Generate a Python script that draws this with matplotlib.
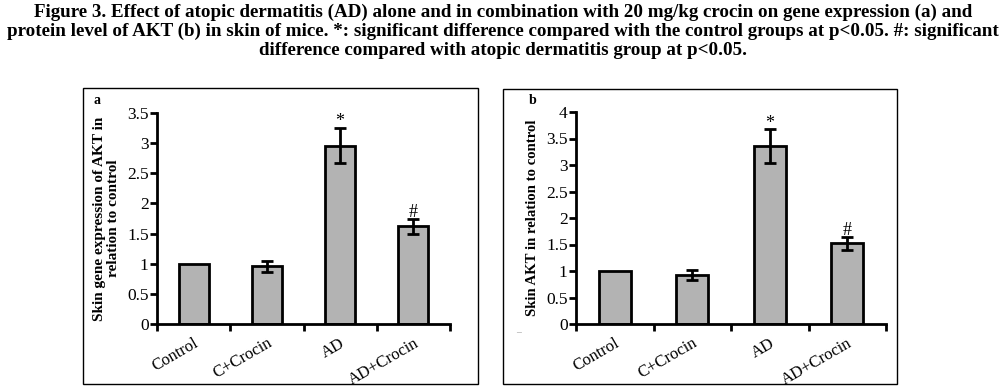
import numpy as np
import matplotlib.pyplot as plt
from matplotlib.patches import Rectangle

groups = ["Control", "C+Crocin", "AD", "AD+Crocin"]

gene_mean = [1.0, 0.96, 2.96, 1.62]
gene_err = [0.0, 0.09, 0.29, 0.13]
gene_marks = ["", "", "*", "#"]

protein_mean = [1.0, 0.92, 3.35, 1.52]
protein_err = [0.0, 0.09, 0.32, 0.13]
protein_marks = ["", "", "*", "#"]

title = ("Figure 3. Effect of atopic dermatitis (AD) alone and in combination with 20 mg/kg crocin on gene expression (a) and\n"
         "protein level of AKT (b) in skin of mice. *: significant difference compared with the control groups at p<0.05. #: significant\n"
         "difference compared with atopic dermatitis group at p<0.05.")

plt.rcParams['font.family'] = ['Liberation Serif', 'DejaVu Serif']

W, H = 1006, 392
fig = plt.figure(figsize=(W / 100, H / 100), dpi=100)


def fx(px):
    return px / W


def fy(py):
    return 1 - py / H


fig.text(0.5, fy(4), title, ha='center', va='top', fontsize=13.7,
         fontweight='bold', linespacing=1.13)

# panel frames
for x0, y0, x1, y1 in [(83, 88, 478, 384), (503, 89, 897, 384)]:
    fig.patches.append(Rectangle((fx(x0), fy(y1)), fx(x1 - x0), (y1 - y0) / H,
                                 transform=fig.transFigure, fill=False,
                                 edgecolor='black', linewidth=1.0))


def panel(rect, means, errs, marks, ymax, yticks, ylabel, ylsize, letter, letter_pos):
    ax = fig.add_axes(rect)
    x = np.arange(len(groups))
    ax.bar(x, means, width=0.41, color='#b3b3b3', edgecolor='black',
           linewidth=2.0, zorder=2)
    e = np.array(errs)
    ax.errorbar(x[1:], np.array(means)[1:], yerr=e[1:], fmt='none',
                ecolor='black', elinewidth=2.0, capsize=4, capthick=2.0,
                zorder=3)
    for xi, m, er, mk in zip(x, means, errs, marks):
        if mk:
            ax.text(xi, m + er - 0.01 * ymax, mk, ha='center', va='bottom',
                    fontsize=13)
    ax.set_xlim(-0.5, len(groups) - 0.5)
    ax.set_ylim(0, ymax)
    ax.set_yticks(yticks)
    ax.set_yticklabels([f"{t:g}" for t in yticks], fontsize=12.5)
    ax.set_xticks(np.arange(len(groups) + 1) - 0.5)
    ax.set_xticklabels([])
    ax.set_xticks(x, minor=True)
    ax.set_xticklabels(groups, minor=True, rotation=30, ha='right',
                       rotation_mode='anchor', fontsize=12)
    ax.tick_params(axis='x', which='minor', length=0, pad=8)
    ax.tick_params(axis='both', which='major', direction='out', width=2,
                   length=5)
    ax.tick_params(axis='y', pad=1)
    for s in ['top', 'right']:
        ax.spines[s].set_visible(False)
    for s in ['left', 'bottom']:
        ax.spines[s].set_linewidth(2)
    ax.set_ylabel(ylabel, fontsize=ylsize, fontweight='bold', labelpad=5,
                  linespacing=1.15)
    fig.text(fx(letter_pos[0]), fy(letter_pos[1]), letter, fontsize=10,
             fontweight='bold', ha='left', va='center')
    return ax


panel([fx(157), fy(324), fx(450 - 157), (324 - 113) / H],
      gene_mean, gene_err, gene_marks, 3.5,
      [0, 0.5, 1, 1.5, 2, 2.5, 3, 3.5],
      "Skin gene expression of AKT in\nrelation to control", 11, "a", (94, 100))

panel([fx(576), fy(324), fx(886 - 576), (324 - 112) / H],
      protein_mean, protein_err, protein_marks, 4.0,
      [0, 0.5, 1, 1.5, 2, 2.5, 3, 3.5, 4],
      "Skin AKT in relation to control", 10.6, "b", (529, 100))

fig.text(fx(516), fy(333), "\u2013", color='#999999', fontsize=7,
         ha='left', va='center')

fig.savefig("out.png", dpi=100)
